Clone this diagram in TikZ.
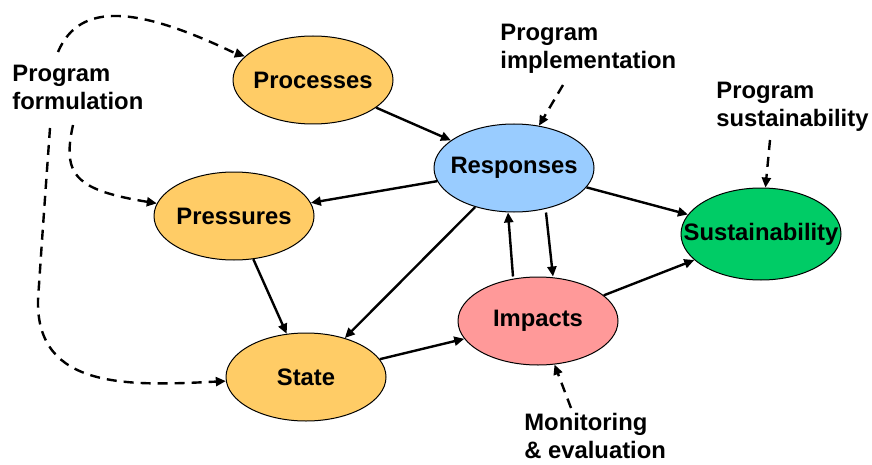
\documentclass[tikz,border=0pt]{standalone}
\usepackage{fontspec}
\setmainfont{Liberation Sans}
\usetikzlibrary{shapes.geometric,arrows.meta}
\definecolor{stateorange}{HTML}{FFCC66}
\definecolor{respblue}{HTML}{99CCFF}
\definecolor{susgreen}{HTML}{00CC66}
\definecolor{imppink}{HTML}{FF9999}
% centred text that does not widen its ellipse
\newcommand\zw[1]{\makebox[0pt]{#1}}
\tikzset{
  blob/.style={ellipse, draw=black, line width=0.5pt, minimum width=80pt,
    minimum height=44pt, inner sep=0pt, font=\fontsize{11.9}{14}\selectfont\bfseries},
  lbl/.style={align=left, anchor=north west, inner sep=0pt,
    font=\fontsize{11.9}{14}\selectfont\bfseries},
  link/.style={line width=1.2pt, -{Triangle[length=5pt,width=4.5pt]}},
  plan/.style={line width=1.2pt, dash pattern=on 5pt off 3.5pt,
    -{Triangle[length=5pt,width=4.5pt]}}
}
\begin{document}
\begin{tikzpicture}[x=0.5pt,y=-0.5pt]
\useasboundingbox (0,0) rectangle (872,465);

% stages of the framework
\node[blob, fill=stateorange] (proc) at (313,80) {\zw{Processes}};
\node[blob, fill=stateorange] (pres) at (234,216) {\zw{Pressures}};
\node[blob, fill=stateorange] (state) at (306,377) {\zw{State}};
\node[blob, fill=respblue] (resp) at (514,168) {\zw{Responses}};
\node[blob, fill=imppink] (imp) at (538,321) {\zw{Impacts}};
\node[blob, fill=susgreen, minimum height=46pt] (sus) at (761,234) {\zw{Sustainability}};

% program phases
\node[lbl] (pf) at (12,65) {Program\\formulation};
\node[lbl] (pi) at (500,24) {Program\\implementation};
\node[lbl] (ps) at (716,82) {Program\\sustainability};
\node[lbl] (me) at (524,413) {Monitoring\\\& evaluation};

% causal links
\draw[link] (proc) -- (resp);
\draw[link] (resp) -- (pres);
\draw[link] (pres) -- (state);
\draw[link] (resp) -- (state);
\draw[link] (state) -- (imp);
\draw[link] ([xshift=-12.5pt]imp.north) -- ([xshift=-3pt]resp.south);
\draw[link] ([xshift=16pt]resp.south) -- ([xshift=7.5pt]imp.north);
\draw[link] (resp) -- (sus);
\draw[link] (imp) -- (sus);

% where each program phase acts
\coordinate (pfa) at (58,52);
\coordinate (pfb) at (73,125);
\coordinate (pfc) at (50,128);
\coordinate (pfm) at (38,300);
\draw[plan] (pfa) .. controls (80,0) and (140,8) .. (proc.west |- 0,52) -- (proc);
\draw[plan] (pfb) .. controls (62,175) and (75,190) .. (pres);
\draw[plan] (pfc) .. controls (42,240) .. (pfm) .. controls (36,390) and (130,386) .. (state);
\coordinate (pia) at (563,85);
\draw[plan] (pia) -- (resp);
\coordinate (psa) at (770,140);
\draw[plan] (psa) -- (sus);
\coordinate (mea) at (571,408);
\draw[plan] (mea) -- (imp);
\end{tikzpicture}
\end{document}
